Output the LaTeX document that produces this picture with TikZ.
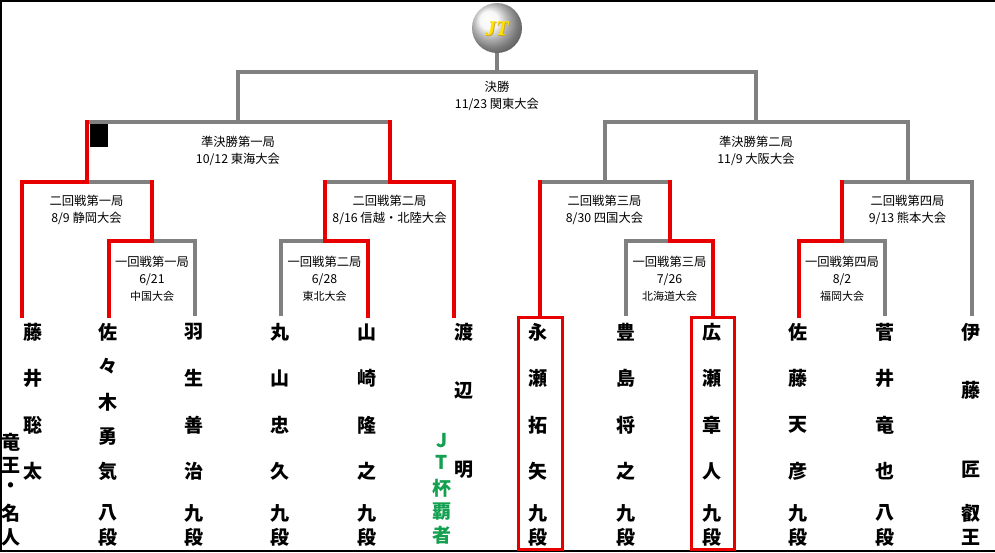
\documentclass[tikz,border=0pt]{standalone}
\usepackage{fontspec}
\setmainfont{Noto Sans CJK JP}
\newfontfamily\jtfont{Liberation Serif}
\definecolor{bgray}{RGB}{128,128,128}
\definecolor{bred}{RGB}{232,0,0}
\definecolor{jtgreen}{RGB}{20,160,80}
\definecolor{jtyellow}{RGB}{255,225,0}
\definecolor{jtshadow}{RGB}{200,160,40}
\tikzset{
  gl/.style={draw=bgray, line width=4, line join=miter},
  rl/.style={draw=bred, line width=4, line cap=rect, line join=miter},
  lbl/.style={align=center, font=\fontsize{12.3}{17}\selectfont, inner sep=0},
  nm/.style={font=\fontsize{19}{19}\selectfont\bfseries, inner sep=0},
  gn/.style={nm, text=jtgreen},
  winbox/.style={draw=bred, line width=3, inner sep=0, minimum width=44, minimum height=232},
  frame/.style={draw=black, line width=2},
}
\newcommand\smallv[1]{{\fontsize{11}{17}\selectfont #1}}
\begin{document}
\begin{tikzpicture}[x=1pt,y=-1pt]
\useasboundingbox (0,0) rectangle (995,552);
% frame
\draw[frame] (0,1) -- (995,1);
\draw[frame] (1,0) -- (1,552);
\draw[frame] (0,551) -- (995,551);

% logo
\node[circle, minimum size=50, inner sep=0, shade, ball color=white!92!gray] (logo) at (497,28) {};
\node[text=jtshadow, font=\jtfont\fontsize{21}{21}\selectfont\bfseries\itshape] (jtsh) at (497.8,29.8) {JT};
\node[text=jtyellow, font=\jtfont\fontsize{21}{21}\selectfont\bfseries\itshape] (jt) at (497,29) {JT};

% red winner boxes
\node[winbox] (box1) at (540,433) {};
\node[winbox, minimum width=43] (box2) at (712.5,433) {};

% black square
\node[fill=black, inner sep=0, minimum width=18, minimum height=23] (blk) at (99,135.5) {};

% feet of the bracket
\coordinate (f1) at (22,316);
\coordinate (f2) at (109,316);
\coordinate (f3) at (195,316);
\coordinate (f4) at (281,316);
\coordinate (f5) at (368,316);
\coordinate (f6) at (454,316);
\coordinate (f7) at (box1.north);
\coordinate (f8) at (626,316);
\coordinate (f9) at (box2.north);
\coordinate (f10) at (799,316);
\coordinate (f11) at (885,316);
\coordinate (f12) at (972,316);
% junctions
\coordinate (m1) at (152,241);
\coordinate (m2) at (324.5,241);
\coordinate (m3) at (669.5,241);
\coordinate (m4) at (842,241);
\coordinate (s1) at (86.5,182);
\coordinate (s2) at (389.5,182);
\coordinate (s3) at (604.5,182);
\coordinate (s4) at (907.5,182);
\coordinate (q1) at (238,122);
\coordinate (q2) at (756,122);
\coordinate (fin) at (497,72);

% gray bracket
\draw[gl] (f1) |- (s1) -| (m1);
\draw[gl] (f2) |- (m1) -| (f3);
\draw[gl] (f4) |- (m2) -| (f5);
\draw[gl] (m2) |- (s2) -| (f6);
\draw[gl] (s1) |- (q1) -| (s2);
\draw[gl] (f7) |- (s3) -| (m3);
\draw[gl] (f8) |- (m3) -| (f9);
\draw[gl] (f10) |- (m4) -| (f11);
\draw[gl] (m4) |- (s4) -| (f12);
\draw[gl] (s3) |- (q2) -| (s4);
\draw[gl] (q1) |- (fin) -| (q2);
\draw[gl] (logo.south) -- (fin);

% red winner paths
\draw[rl] (f1) |- (s1) -- (s1 |- q1);
\draw[rl] (f2) |- (m1) -- (m1 |- s1);
\draw[rl] (f6) |- (s2) -- (s2 |- q1);
\draw[rl] (f5) |- (m2) -- (m2 |- s2);
\draw[rl] (f7) -- (f7 |- s3);
\draw[rl] (f9) |- (m3) -- (m3 |- s3);
\draw[rl] (f10) |- (m4) -- (m4 |- s4);

% match labels
\node[lbl] (lfin) at (497,96) {決勝\\11/23 関東大会};
\node[lbl] (lq1) at (238,150.5) {準決勝第一局\\10/12 東海大会};
\node[lbl] (lq2) at (756,150.5) {準決勝第二局\\11/9 大阪大会};
\node[lbl] (ls1) at (86.5,209.5) {二回戦第一局\\8/9 静岡大会};
\node[lbl] (ls2) at (389.5,209.5) {二回戦第二局\\8/16 信越・北陸大会};
\node[lbl] (ls3) at (604.5,209.5) {二回戦第三局\\8/30 四国大会};
\node[lbl] (ls4) at (907.5,209.5) {二回戦第四局\\9/13 熊本大会};
\node[lbl] (lm1) at (152,279) {一回戦第一局\\6/21\\\smallv{中国大会}};
\node[lbl] (lm2) at (324.5,279) {一回戦第二局\\6/28\\\smallv{東北大会}};
\node[lbl] (lm3) at (669.5,279) {一回戦第三局\\7/26\\\smallv{北海道大会}};
\node[lbl] (lm4) at (842,279) {一回戦第四局\\8/2\\\smallv{福岡大会}};

% player names
\foreach \c/\yy [count=\i] in {藤/332,井/378.5,聡/425,太/471.5}
  \node[nm] (fujii\i) at (33,\yy) {\c};
\foreach \c/\yy [count=\i] in {竜/442,王/465,・/488,名/513,人/537}
  \node[nm] (fujiit\i) at (11,\yy) {\c};
\foreach \c/\yy [count=\i] in {佐/332,々/366,木/402,勇/437,気/471.5,八/513,段/537}
  \node[nm] (sasaki\i) at (108,\yy) {\c};
\foreach \c/\yy [count=\i] in {羽/332,生/378.5,善/425,治/471.5,九/513,段/537}
  \node[nm] (habu\i) at (194,\yy) {\c};
\foreach \c/\yy [count=\i] in {丸/332,山/378.5,忠/425,久/471.5,九/513,段/537}
  \node[nm] (maruyama\i) at (280,\yy) {\c};
\foreach \c/\yy [count=\i] in {山/332,崎/378.5,隆/425,之/471.5,九/513,段/537}
  \node[nm] (yamasaki\i) at (367,\yy) {\c};
\foreach \c/\yy [count=\i] in {渡/332,辺/390,明/470}
  \node[nm] (watanabe\i) at (464,\yy) {\c};
\foreach \c/\yy [count=\i] in {J/441,T/462,杯/488,覇/512,者/535}
  \node[gn] (jthasha\i) at (442,\yy) {\c};
\foreach \c/\yy [count=\i] in {永/332,瀬/378.5,拓/425,矢/471.5,九/513,段/537}
  \node[nm] (nagase\i) at (538,\yy) {\c};
\foreach \c/\yy [count=\i] in {豊/332,島/378.5,将/425,之/471.5,九/513,段/537}
  \node[nm] (toyoshima\i) at (626,\yy) {\c};
\foreach \c/\yy [count=\i] in {広/332,瀬/378.5,章/425,人/471.5,九/513,段/537}
  \node[nm] (hirose\i) at (712,\yy) {\c};
\foreach \c/\yy [count=\i] in {佐/332,藤/378.5,天/425,彦/471.5,九/513,段/537}
  \node[nm] (sato\i) at (798,\yy) {\c};
\foreach \c/\yy [count=\i] in {菅/332,井/378.5,竜/425,也/471.5,八/513,段/537}
  \node[nm] (sugai\i) at (885,\yy) {\c};
\foreach \c/\yy [count=\i] in {伊/332,藤/390,匠/470,叡/513,王/537}
  \node[nm] (ito\i) at (971,\yy) {\c};
\end{tikzpicture}
\end{document}
